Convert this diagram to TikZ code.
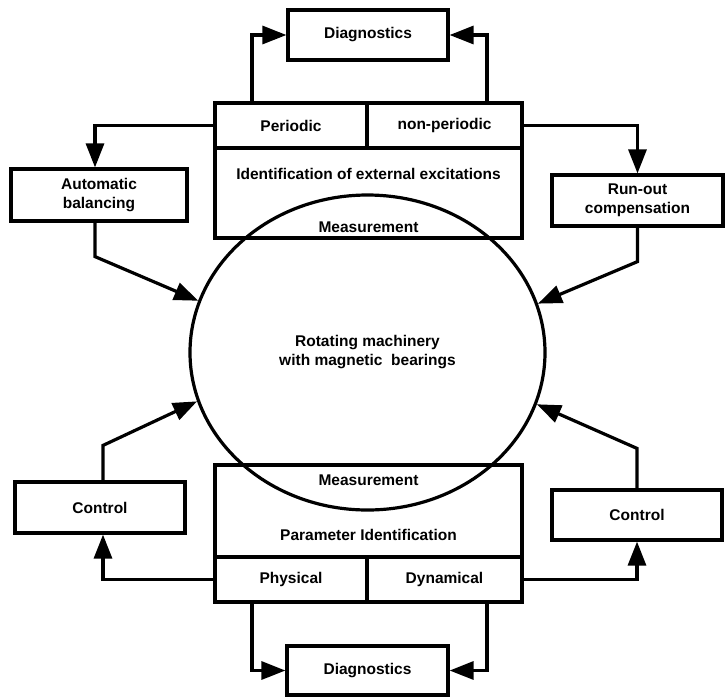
\documentclass[tikz,border=0pt]{standalone}
\usepackage{fontspec}
\setmainfont{Liberation Sans}
\usetikzlibrary{arrows.meta,shapes.geometric}
\begin{document}
\begin{tikzpicture}[x=1pt,y=-1pt,
  every node/.style={font=\fontsize{15.5}{19}\selectfont\bfseries},
  box/.style={draw,line width=3.2pt,inner sep=0pt,align=center},
  lbl/.style={inner sep=0pt,align=center},
  arr/.style={line width=3.2pt,-{Triangle[length=24pt,width=18pt]}}]
\useasboundingbox (0,0) rectangle (725,697);
% top
\node[box,minimum width=160pt,minimum height=50pt] (diagT) at (368,35) {Diagnostics};
\node[box,minimum width=307pt,minimum height=90pt] (ident) at (368.5,193) {};
\node[box,minimum width=152pt,minimum height=45pt] (per) at (291,125.5) {Periodic};
\node[box,minimum width=155pt,minimum height=45pt] (nonper) at (444.5,125.5) {non-periodic};
\node[lbl] (identt) at (368.5,174) {Identification of external excitations};
\node[lbl] (measT) at (368.5,227) {Measurement};
% ellipse
\node[draw,ellipse,line width=3.2pt,inner sep=0pt,minimum width=355pt,minimum height=315pt,align=center] (rot) at (367.5,352.5) {Rotating machinery\\with magnetic\ \ bearings};
% bottom
\node[box,minimum width=307pt,minimum height=92pt] (param) at (368.5,511) {};
\node[box,minimum width=152pt,minimum height=45pt] (phys) at (291,579.5) {Physical};
\node[box,minimum width=155pt,minimum height=45pt] (dyn) at (444.5,579.5) {Dynamical};
\node[lbl] (measB) at (368.5,480) {Measurement};
\node[lbl] (paramt) at (368.5,535) {Parameter Identification};
\node[box,minimum width=161pt,minimum height=49pt] (diagB) at (367.5,670.5) {Diagnostics};
% side boxes
\node[box,minimum width=176pt,minimum height=52pt] (autob) at (99,195) {Automatic\\balancing};
\node[box,minimum width=171pt,minimum height=51pt] (runout) at (637.5,200.5) {Run-out\\compensation};
\node[box,minimum width=170pt,minimum height=51pt] (ctlL) at (100,507.5) {Control};
\node[box,minimum width=170pt,minimum height=50pt] (ctlR) at (637,515) {Control};
% connectors top
\draw[arr] ([xshift=-39pt]per.north) |- (diagT.west);
\draw[arr] ([xshift=42.5pt]nonper.north) |- (diagT.east);
\draw[arr] (per.west) -| ([xshift=-4pt]autob.north);
\draw[arr] (nonper.east) -| (runout.north);
\draw[arr] ([xshift=-4pt]autob.south) -- ++(0,34) -- (rot.163.5);
\draw[arr] (runout.south) -- ++(0,34) -- (rot.16);
% connectors bottom
\draw[arr] (phys.west) -| ([xshift=3pt]ctlL.south);
\draw[arr] (dyn.east) -| (ctlR.south);
\draw[arr] ([xshift=3pt]ctlL.north) -- ++(0,-35) -- (rot.196);
\draw[arr] (ctlR.north) -- ++(0,-40) -- (rot.343);
\draw[arr] ([xshift=-39pt]phys.south) |- (diagB.west);
\draw[arr] ([xshift=42.5pt]dyn.south) |- (diagB.east);
\end{tikzpicture}
\end{document}
